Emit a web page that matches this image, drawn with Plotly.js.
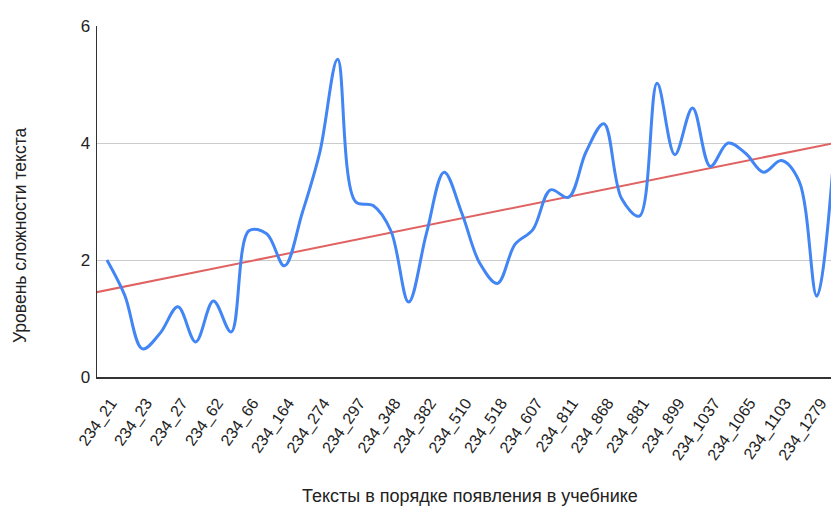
<!DOCTYPE html>
<html>
<head>
<meta charset="utf-8">
<script src="https://cdn.plot.ly/plotly-3.0.1.min.js"></script>
<style>
  html, body { margin: 0; padding: 0; background: #fff; overflow: hidden; }
  #chart { width: 831px; height: 508px; }
</style>
</head>
<body>
<div id="chart"></div>
<script>
// Text IDs shown on the axis (every second text in the sequence is labelled)
const textLabels = [
  '234_21', '234_23', '234_27', '234_62', '234_66', '234_164', '234_274',
  '234_297', '234_348', '234_382', '234_510', '234_518', '234_607', '234_811',
  '234_868', '234_881', '234_899', '234_1037', '234_1065', '234_1103', '234_1279'
];

// Complexity level of each text, in textbook order
const complexity = [
  2.0, 1.4, 0.48, 0.75, 1.2, 0.6, 1.3, 0.77, 2.5, 2.45,
  1.9, 2.8, 3.85, 5.43, 3.0, 2.93, 2.5, 1.28, 2.45, 3.5,
  2.8, 1.95, 1.6, 2.27, 2.52, 3.2, 3.07, 3.85, 4.33, 3.05,
  2.75, 5.02, 3.8, 4.6, 3.6, 4.0, 3.82, 3.5, 3.7, 3.35,
  1.38, 3.95
];

const yTicks = [0, 2, 4, 6];

const xTitle = 'Тексты в порядке появления в учебнике';
const yTitle = 'Уровень сложности текста';

// Position of each text along the axis
const positions = complexity.map((_, i) => i);
const labelPositions = textLabels.map((_, i) => i * 2);

// Least-squares linear trend over the sequence
const n = complexity.length;
const meanX = positions.reduce((a, b) => a + b, 0) / n;
const meanY = complexity.reduce((a, b) => a + b, 0) / n;
let sxy = 0, sxx = 0;
for (let i = 0; i < n; i++) {
  sxy += (positions[i] - meanX) * (complexity[i] - meanY);
  sxx += (positions[i] - meanX) ** 2;
}
const slope = sxy / sxx;
const intercept = meanY - slope * meanX;

const xRange = [-0.56, 40.8];
const trendX = [xRange[0] - 1, xRange[1] + 1];
const trendY = trendX.map(x => intercept + slope * x);

const fontFamily = 'Arial, "Liberation Sans", sans-serif';
const textColor = '#222';

const traces = [
  {
    x: trendX, y: trendY,
    type: 'scatter', mode: 'lines',
    line: { color: '#e06262', width: 2 },
    hoverinfo: 'skip', showlegend: false
  },
  {
    x: positions, y: complexity,
    type: 'scatter', mode: 'lines',
    line: { color: '#4285f4', width: 3, shape: 'spline', smoothing: 1 },
    showlegend: false
  }
];

const layout = {
  width: 831, height: 508,
  margin: { l: 97, r: 0, t: 26, b: 131 },
  paper_bgcolor: '#fff', plot_bgcolor: '#fff',
  font: { family: fontFamily, size: 16, color: textColor },
  showlegend: false,
  xaxis: {
    range: xRange,
    tickmode: 'array',
    tickvals: labelPositions,
    ticktext: textLabels,
    tickangle: -55,
    tickfont: { size: 16, color: textColor },
    ticklabelstandoff: 9,
    ticklabelshift: 4,
    ticklabeloverflow: 'allow',
    showgrid: false, zeroline: false,
    showline: true, linecolor: '#333', linewidth: 1.5,
    ticks: '',
    automargin: false
  },
  yaxis: {
    range: [0, 6],
    tickmode: 'array',
    tickvals: yTicks,
    ticktext: yTicks.map(String),
    tickfont: { size: 17, color: textColor },
    ticklabelstandoff: 2,
    showgrid: true, gridcolor: '#cccccc', gridwidth: 1,
    zeroline: false,
    showline: true, linecolor: '#333', linewidth: 1.5,
    ticks: '',
    automargin: false
  },
  // Axis titles placed as free text in pixel terms
  annotations: [
    {
      text: xTitle, showarrow: false,
      xref: 'paper', yref: 'paper',
      x: (470 - 97) / 734, y: -(496 - 377) / 351,
      xanchor: 'center', yanchor: 'middle',
      font: { family: fontFamily, size: 18, color: textColor }
    },
    {
      text: yTitle, showarrow: false, textangle: -90,
      xref: 'paper', yref: 'paper',
      x: -(97 - 20) / 734, y: (377 - 236) / 351,
      xanchor: 'center', yanchor: 'middle',
      font: { family: fontFamily, size: 17.5, color: textColor }
    }
  ]
};

Plotly.newPlot('chart', traces, layout, { staticPlot: true, displayModeBar: false });
</script>
</body>
</html>
